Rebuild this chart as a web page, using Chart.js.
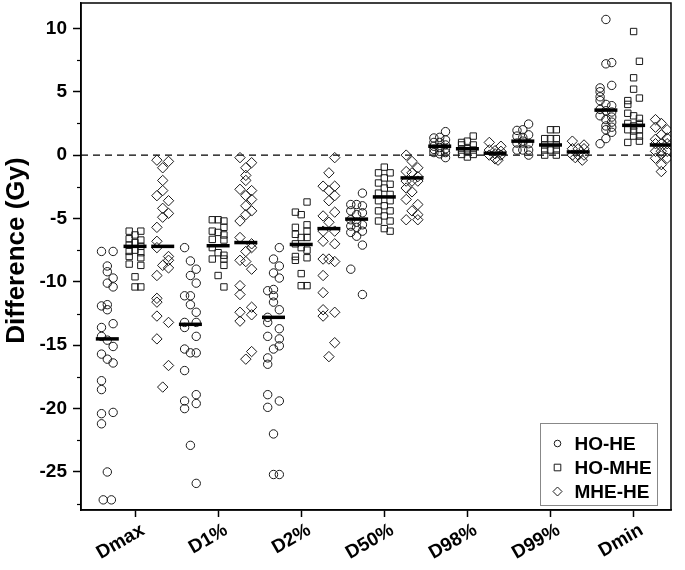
<!DOCTYPE html>
<html>
<head>
<meta charset="utf-8">
<script src="https://cdn.jsdelivr.net/npm/chart.js@4.4.0/dist/chart.umd.min.js"></script>
<style>
  html, body { margin: 0; padding: 0; background: #fff; }
</style>
</head>
<body>
<canvas id="chart" width="685" height="570"></canvas>
<script>
// categories on the x axis
const categories = ['Dmax', 'D1%', 'D2%', 'D50%', 'D98%', 'D99%', 'Dmin'];
const seriesNames = ['HO-HE', 'HO-MHE', 'MHE-HE'];

// HO-HE differences (Gy), one list per category
const hoHeValues = [
  [-7.6,-7.6,-8.75,-9.2,-9.7,-10.1,-10.4,-11.8,-11.9,-12.2,-13.3,-13.6,-14.3,-14.6,-15.1,-15.7,-16.1,-16.4,-17.8,-18.5,-20.3,-20.4,-21.2,-25.0,-27.2,-27.2],
  [-7.3,-8.35,-9.0,-9.5,-10.1,-11.1,-11.1,-11.8,-12.4,-13.2,-13.2,-13.6,-14.3,-15.3,-15.6,-15.6,-17.0,-18.9,-19.4,-19.6,-20.0,-22.9,-25.9],
  [-7.3,-8.2,-8.75,-9.3,-9.7,-10.6,-10.7,-11.1,-11.6,-12.2,-12.8,-13.2,-13.7,-14.3,-14.5,-15.05,-15.3,-16.0,-16.5,-18.9,-19.4,-19.9,-22.0,-25.2,-25.2],
  [-3.0,-3.9,-3.9,-4.0,-4.4,-4.55,-4.7,-5.1,-5.3,-5.5,-5.6,-5.7,-6.0,-6.1,-6.4,-7.1,-9.0,-11.0],
  [1.85,1.4,1.35,1.2,1.0,1.0,0.8,0.7,0.6,0.5,0.45,0.3,0.2,0.2,0.1,-0.2],
  [2.45,2.0,1.95,1.6,1.5,1.4,1.1,0.95,0.95,0.9,0.4,0.4,0.4,0.0],
  [10.7,7.3,7.2,5.5,5.3,5.0,4.6,4.3,4.0,3.9,3.6,3.5,3.4,3.1,3.0,2.8,2.6,2.3,2.2,2.0,1.8,1.3,0.9]
];
// horizontal lane of each point inside its column (-1 left, 0 middle, 1 right)
const hoHeLanes = [
  [-1,1,0,0,1,0,1,0,-1,0,1,-1,-1,0,1,-1,0,1,-1,-1,1,-1,-1,0,-0.7,0.7],
  [-1,0,1,0,1,-1,0,0,1,-1,1,-1,1,-1,0,1,-1,1,-1,1,-1,0,1],
  [1,0,1,0,1,0,-1,0,0,1,-1,-1,1,-1,1,1,0,-1,-1,-1,1,-1,0,0,1],
  [1,-1,0,1,-1,1,0,-1,0,1,-1,0,1,-1,0,1,-1,1],
  [1,0,-1,1,-1,0,1,-1,0,1,-1,0,-1,1,0,1],
  [1,0,-1,1,-1,0,0,-1,0,1,-1,0,1,1],
  [0,1,0,1,-1,-1,-1,-1,0,1,-1,0,1,-1,1,0,1,0,1,0,1,0,-1]
];

// HO-MHE differences (Gy)
const hoMheValues = [
  [-6.0,-6.0,-6.3,-6.6,-6.7,-6.9,-7.1,-7.2,-7.5,-7.6,-7.7,-8.0,-8.1,-8.6,-8.7,-9.6,-10.4,-10.4],
  [-5.1,-5.1,-5.2,-5.7,-6.0,-6.1,-6.3,-6.65,-6.7,-7.3,-7.7,-7.9,-8.2,-8.2,-8.7,-9.5,-10.4],
  [-3.7,-4.5,-4.7,-5.5,-5.7,-6.0,-6.25,-6.5,-6.5,-7.0,-7.3,-7.5,-8.0,-8.1,-8.3,-9.35,-10.3,-10.3],
  [-0.95,-1.4,-1.4,-1.8,-2.2,-2.3,-2.6,-3.0,-3.1,-3.6,-3.6,-4.0,-4.4,-4.4,-4.8,-5.2,-5.2,-5.8,-6.0],
  [1.5,1.1,1.0,0.8,0.8,0.5,0.4,0.4,0.3,0.05,0.05,-0.15],
  [2.0,2.0,1.3,1.3,1.3,0.8,0.8,0.4,0.4,0.4,0.0,0.0],
  [9.75,7.4,6.1,5.2,4.5,4.3,4.0,3.3,3.1,2.9,2.5,2.3,2.5,2.0,1.9,2.0,1.5,1.5,1.1,1.0]
];
const hoMheLanes = [
  [-1,1,0,-1,1,0,-1,1,0,-1,1,-1,1,-1,1,0,0,1],
  [-1,0,1,1,-1,0,1,-1,1,-1,0,1,-1,1,1,0,1],
  [1,-1,0,1,-1,1,-1,0,1,-1,0,1,-1,1,-1,0,0,1],
  [0,-1,1,0,-1,1,0,-1,1,-1,1,0,-1,1,0,1,-1,0,1],
  [1,0,-1,-1,1,0,-1,1,0,-1,1,0],
  [0,1,-1,0,1,-1,1,-1,0,1,-1,1],
  [0,1,0,0,1,-1,-1,-1,0,1,-1,0,1,-1,0,1,0,1,1,-1]
];

// MHE-HE differences (Gy)
const mheHeValues = [
  [-0.4,-0.5,-1.0,-2.0,-2.8,-3.2,-3.6,-4.2,-4.6,-4.9,-5.7,-6.8,-7.3,-8.0,-8.3,-8.7,-8.9,-9.5,-11.3,-11.6,-12.7,-13.2,-14.5,-16.6,-18.3],
  [-0.2,-0.6,-1.0,-1.6,-2.0,-2.7,-2.8,-3.2,-3.5,-4.0,-4.4,-4.7,-5.2,-6.5,-7.0,-7.3,-7.6,-8.3,-8.4,-9.0,-10.3,-11.0,-12.0,-12.4,-12.6,-13.1,-15.5,-16.1],
  [-0.2,-1.4,-2.45,-2.45,-2.8,-3.2,-3.6,-4.5,-4.8,-5.3,-6.0,-6.0,-6.8,-7.0,-8.2,-8.2,-8.4,-9.5,-10.85,-12.2,-12.4,-12.7,-14.8,-15.9],
  [0.0,-0.5,-1.0,-1.3,-1.4,-1.7,-2.05,-2.05,-2.05,-2.6,-2.9,-3.5,-3.9,-4.4,-4.7,-5.1,-5.1],
  [1.0,0.7,0.4,0.35,0.3,0.1,0.0,0.0,-0.3,-0.4],
  [1.1,0.8,0.5,0.5,0.5,0.0,0.0,0.0,-0.2,-0.4],
  [2.8,2.5,2.2,2.0,1.6,1.35,1.25,0.9,0.9,0.9,0.3,0.3,0.3,0.05,-0.25,-0.25,-0.75,-1.3]
];
const mheHeLanes = [
  [-1,1,0,0,0,-1,1,0,1,0,-1,-1,-1,1,1,0,1,-1,-1,-1,-1,1,-1,1,0],
  [-1,1,0,0,0,-1,1,0,1,0,1,0,-1,-1,1,1,0,-1,0,1,-1,-1,1,-1,1,-1,1,0],
  [1,0,-1,1,0,1,0,1,-1,0,-1,1,-1,1,-1,0,1,-1,-1,-1,1,-1,1,0],
  [-1,0,1,-1,0,1,-1,0,1,-1,0,-1,1,0,1,-1,1],
  [-1,1,-1,0,1,0,-1,1,0,0.5],
  [-1,1,-1,0,1,-1,0,1,-0.5,0.7],
  [-1,0,-1,1,0,1,-1,-1,0,1,-1,0,1,0,-1,1,0,0]
];

// medians drawn as short thick bars
const hoHeMedian = [-14.5, -13.35, -12.8, -5.05, 0.7, 1.1, 3.55];
const hoMheMedian = [-7.2, -7.15, -7.05, -3.3, 0.5, 0.8, 2.35];
const mheHeMedian = [-7.2, -6.9, -5.8, -1.8, 0.15, 0.25, 0.8];

const yTicks = [-25, -20, -15, -10, -5, 0, 5, 10];
const yMinorTicks = [-27.5, -22.5, -17.5, -12.5, -7.5, -2.5, 2.5, 7.5];

// column position of each series within a category, and lane spacing
const groupOffset = [-1 / 3, 0, 1 / 3];
const laneWidth = 0.07;

const FONT = "'Liberation Sans', Arial, sans-serif";

function buildPoints(values, lanes, g) {
    let pts = [];
    values.forEach((list, ci) => {
        list.forEach((v, i) => {
            pts.push({ x: ci + 1 + groupOffset[g] + lanes[ci][i] * laneWidth, y: v });
        });
    });
    return pts;
}

function buildMedians(medians, g) {
    return medians.map((m, ci) => ({ x: ci + 1 + groupOffset[g], y: m }));
}

const symbols = ['circle', 'rect', 'rectRot'];
const symbolRadius = [4.2, 4.5, 5.2];

let datasets = [];
// dashed zero line
datasets.push({
    type: 'line',
    label: 'zero',
    data: [{ x: 0.35, y: 0 }, { x: 7.46, y: 0 }],
    borderColor: '#000',
    borderWidth: 1.3,
    borderDash: [7, 5],
    pointRadius: 0,
    order: 10
});

[hoHeValues, hoMheValues, mheHeValues].forEach((vals, g) => {
    let lanes = [hoHeLanes, hoMheLanes, mheHeLanes][g];
    datasets.push({
        label: seriesNames[g],
        data: buildPoints(vals, lanes, g),
        pointStyle: symbols[g],
        pointRadius: symbolRadius[g],
        pointBorderColor: '#1a1a1a',
        pointBackgroundColor: 'rgba(0,0,0,0)',
        pointBorderWidth: 1,
        order: 5
    });
});

[hoHeMedian, hoMheMedian, mheHeMedian].forEach((meds, g) => {
    datasets.push({
        label: 'median ' + seriesNames[g],
        data: buildMedians(meds, g),
        pointStyle: 'line',
        pointRadius: 11.5,
        pointBorderColor: '#000',
        pointBorderWidth: 3.5,
        order: 1
    });
});

// box round the plot, minor ticks, y title and legend
const extras = {
    id: 'extras',
    afterDraw(chart) {
        const ctx = chart.ctx;
        const a = chart.chartArea;
        const ys = chart.scales.y;
        ctx.save();
        ctx.strokeStyle = '#000';
        ctx.lineWidth = 1.5;
        ctx.strokeRect(a.left, a.top, a.right - a.left, a.bottom - a.top);

        ctx.lineWidth = 1.2;
        yMinorTicks.forEach((t) => {
            let py = Math.round(ys.getPixelForValue(t)) + 0.5;
            ctx.beginPath();
            ctx.moveTo(a.left - 4, py);
            ctx.lineTo(a.left, py);
            ctx.stroke();
        });

        // y axis title
        ctx.save();
        ctx.translate(17, (a.top + a.bottom) / 2 - 6);
        ctx.rotate(-Math.PI / 2);
        ctx.fillStyle = '#000';
        ctx.font = 'bold 26px ' + FONT;
        ctx.textAlign = 'center';
        ctx.textBaseline = 'middle';
        ctx.fillText('Difference (Gy)', 0, 0);
        ctx.restore();

        // legend
        let lx = 540.5, ly = 423.5, lw = 117, lh = 82;
        ctx.fillStyle = '#fff';
        ctx.fillRect(lx, ly, lw, lh);
        ctx.strokeStyle = '#888';
        ctx.lineWidth = 1;
        ctx.strokeRect(lx, ly, lw, lh);
        ctx.font = 'bold 19px ' + FONT;
        ctx.textBaseline = 'middle';
        ctx.textAlign = 'left';
        seriesNames.forEach((name, g) => {
            let cy = ly + 20 + g * 24;
            let cx = lx + 17;
            ctx.strokeStyle = '#1a1a1a';
            ctx.lineWidth = 1;
            ctx.beginPath();
            if (g === 0) {
                ctx.arc(cx, cy, 3.3, 0, Math.PI * 2);
            } else if (g === 1) {
                ctx.rect(cx - 3.3, cy - 3.3, 6.6, 6.6);
            } else {
                ctx.moveTo(cx, cy - 4.5);
                ctx.lineTo(cx + 4.5, cy);
                ctx.lineTo(cx, cy + 4.5);
                ctx.lineTo(cx - 4.5, cy);
                ctx.closePath();
            }
            ctx.stroke();
            ctx.fillStyle = '#000';
            ctx.fillText(name, lx + 34, cy + 1);
        });
        ctx.restore();
    }
};

new Chart(document.getElementById('chart'), {
    type: 'scatter',
    data: { datasets: datasets },
    options: {
        responsive: false,
        animation: false,
        layout: { autoPadding: false, padding: { top: 3, right: 14, left: 0, bottom: 0 } },
        plugins: {
            legend: { display: false },
            tooltip: { enabled: false }
        },
        scales: {
            x: {
                type: 'linear',
                min: 0.35,
                max: 7.45,
                afterBuildTicks: (scale) => {
                    scale.ticks = categories.map((c, i) => ({ value: i + 1 }));
                },
                afterFit: (scale) => {
                    scale.height = 60;
                    scale.paddingLeft = 0;
                    scale.paddingRight = 0;
                },
                ticks: {
                    callback: (v) => categories[v - 1],
                    font: { family: FONT, size: 19, weight: 'bold' },
                    color: '#000',
                    minRotation: 30,
                    maxRotation: 30,
                    padding: 2,
                    labelOffset: 8,
                    autoSkip: false
                },
                grid: { drawOnChartArea: false, tickLength: 7, color: '#000', tickWidth: 1.5 },
                border: { color: '#000', width: 1.5 }
            },
            y: {
                min: -28,
                max: 12,
                afterBuildTicks: (scale) => {
                    scale.ticks = yTicks.map((v) => ({ value: v }));
                },
                afterFit: (scale) => {
                    scale.width = 81;
                    scale.paddingTop = 0;
                    scale.paddingBottom = 0;
                },
                ticks: {
                    font: { family: FONT, size: 19, weight: 'bold' },
                    color: '#000',
                    padding: 6
                },
                grid: { drawOnChartArea: false, tickLength: 8, color: '#000', tickWidth: 1.5 },
                border: { color: '#000', width: 1.5 }
            }
        }
    },
    plugins: [extras]
});
</script>
</body>
</html>
